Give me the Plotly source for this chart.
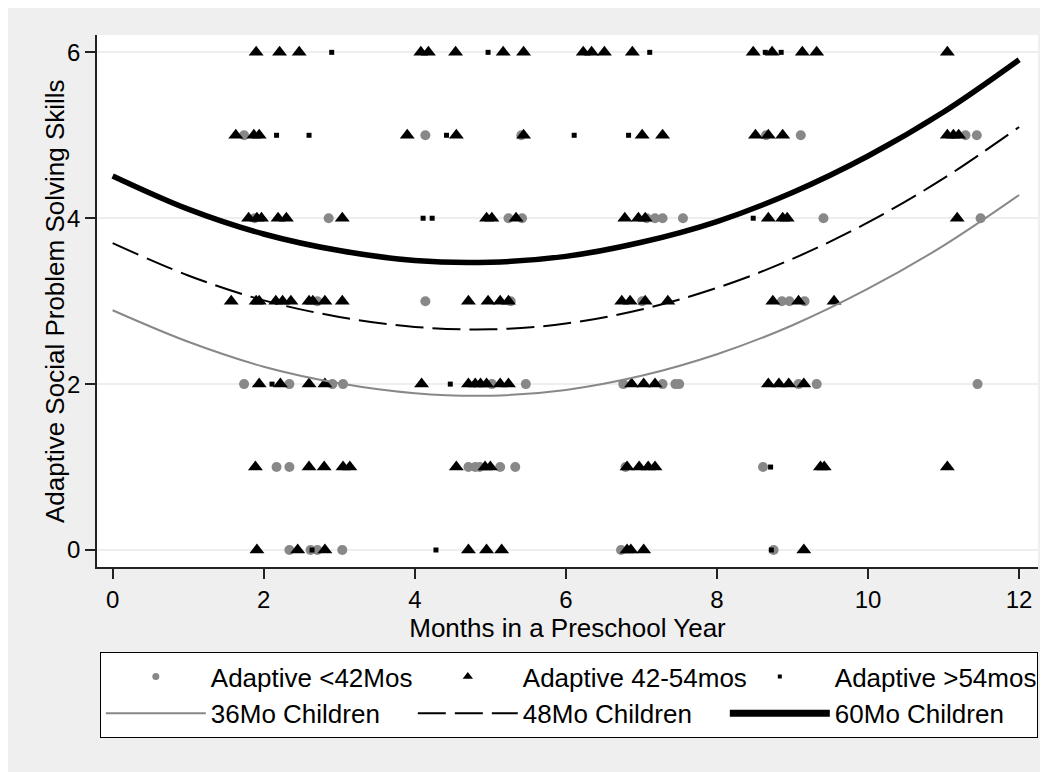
import plotly.graph_objects as go

# ---- data ----
x_ticks = [0, 2, 4, 6, 8, 10, 12]
y_ticks = [0, 2, 4, 6]

# Adaptive <42Mos (gray circles)
lt42_x = [1.74, 4.14, 5.41, 8.65, 9.11, 11.29, 11.44,
          1.88, 2.86, 5.24, 5.42, 7.07, 7.18, 7.28, 7.55, 9.41, 11.49,
          2.71, 4.14, 5.27, 7.01, 8.86, 8.96, 9.16,
          1.74, 2.34, 2.91, 3.05, 5.02, 5.47, 6.76, 7.28, 7.45, 7.50, 9.08, 9.32, 11.45,
          2.17, 2.34, 4.71, 4.80, 4.86, 5.13, 5.33, 6.79, 8.61,
          2.34, 2.62, 2.71, 3.04, 6.73, 8.75]
lt42_y = [5, 5, 5, 5, 5, 5, 5,
          4, 4, 4, 4, 4, 4, 4, 4, 4, 4,
          3, 3, 3, 3, 3, 3, 3,
          2, 2, 2, 2, 2, 2, 2, 2, 2, 2, 2, 2, 2,
          1, 1, 1, 1, 1, 1, 1, 1, 1,
          0, 0, 0, 0, 0, 0]

# Adaptive 42-54mos (black triangles)
mid_x = [1.90, 2.21, 2.47, 4.08, 4.18, 4.54, 5.17, 5.44, 6.23, 6.34, 6.51, 6.88, 8.48, 8.73, 9.13, 9.32, 11.05,
         1.63, 1.87, 1.94, 3.90, 4.55, 5.44, 7.01, 7.28, 8.51, 8.68, 8.87, 11.05, 11.13, 11.20,
         1.80, 1.91, 1.97, 2.19, 2.30, 3.04, 4.95, 5.02, 5.34, 6.78, 6.96, 7.05, 8.68, 8.87, 8.93, 11.18,
         1.57, 1.90, 1.94, 2.16, 2.25, 2.36, 2.60, 2.65, 2.81, 3.04, 4.71, 4.97, 5.13, 5.24, 6.74, 6.85, 7.05, 7.35, 8.74, 9.08, 9.55,
         1.94, 2.22, 2.60, 2.81, 4.09, 4.71, 4.80, 4.87, 4.95, 5.13, 5.24, 6.87, 7.03, 7.18, 8.68, 8.82, 8.95, 9.15,
         1.89, 2.60, 2.80, 3.05, 3.14, 4.55, 4.93, 5.00, 6.81, 6.97, 7.09, 7.18, 9.37, 9.42, 11.05,
         1.91, 2.45, 2.81, 4.71, 4.95, 5.15, 6.81, 6.86, 7.03, 9.15]
mid_y = [6] * 17 + [5] * 14 + [4] * 16 + [3] * 21 + [2] * 18 + [1] * 15 + [0] * 10

# Adaptive >54mos (small black squares)
gt54_x = [2.90, 4.97, 7.11, 8.64, 8.85,
          2.17, 2.60, 4.42, 6.11, 6.83,
          4.11, 4.23, 8.48,
          2.11, 4.47,
          8.71,
          2.64, 4.28, 8.72]
gt54_y = [6, 6, 6, 6, 6,
          5, 5, 5, 5, 5,
          4, 4, 4,
          2, 2,
          1,
          0, 0, 0]

# Fitted curves read at each month
curve_x = [0, 1, 2, 3, 4, 5, 6, 7, 8, 9, 10, 11, 12]
c36 = [2.89, 2.51, 2.21, 2.01, 1.89, 1.86, 1.93, 2.10, 2.36, 2.71, 3.15, 3.67, 4.28]
c48 = [3.70, 3.31, 3.01, 2.81, 2.69, 2.66, 2.73, 2.90, 3.16, 3.51, 3.95, 4.48, 5.10]
c60 = [4.51, 4.11, 3.81, 3.61, 3.49, 3.47, 3.54, 3.71, 3.96, 4.31, 4.75, 5.28, 5.91]

GRAY = "#888888"
BG = "#efefef"
FONT = "Liberation Sans, Arial, sans-serif"

fig = go.Figure()
# data marks (legend drawn by the legend-only entries below, which use smaller symbols)
fig.add_trace(go.Scatter(x=lt42_x, y=lt42_y, mode="markers", showlegend=False,
                         marker=dict(symbol="circle", size=10, color=GRAY)))
fig.add_trace(go.Scatter(x=mid_x, y=mid_y, mode="markers", showlegend=False,
                         marker=dict(symbol="triangle-up", size=13, color="black")))
fig.add_trace(go.Scatter(x=gt54_x, y=gt54_y, mode="markers", showlegend=False,
                         marker=dict(symbol="square", size=5, color="black")))
fig.add_trace(go.Scatter(x=curve_x, y=c36, mode="lines", showlegend=False,
                         line=dict(color=GRAY, width=2, shape="spline")))
fig.add_trace(go.Scatter(x=curve_x, y=c48, mode="lines", showlegend=False,
                         line=dict(color="black", width=2, dash="28px,9px", shape="spline")))
fig.add_trace(go.Scatter(x=curve_x, y=c60, mode="lines", showlegend=False,
                         line=dict(color="black", width=5.5, shape="spline")))

# legend entries
fig.add_trace(go.Scatter(x=[None], y=[None], mode="markers", name="Adaptive <42Mos",
                         marker=dict(symbol="circle", size=7, color=GRAY)))
fig.add_trace(go.Scatter(x=[None], y=[None], mode="markers", name="Adaptive 42-54mos",
                         marker=dict(symbol="triangle-up", size=9, color="black")))
fig.add_trace(go.Scatter(x=[None], y=[None], mode="markers", name="Adaptive >54mos",
                         marker=dict(symbol="square", size=4, color="black")))
fig.add_trace(go.Scatter(x=[None], y=[None], mode="lines", name="36Mo Children",
                         line=dict(color=GRAY, width=2)))
fig.add_trace(go.Scatter(x=[None], y=[None], mode="lines", name="48Mo Children",
                         line=dict(color="black", width=2, dash="28px,9px")))
fig.add_trace(go.Scatter(x=[None], y=[None], mode="lines", name="60Mo Children",
                         line=dict(color="black", width=7)))

fig.update_layout(
    width=1048, height=772,
    margin=dict(l=89, r=18, t=27, b=213),
    paper_bgcolor=BG,
    plot_bgcolor="white",
    font=dict(family=FONT, size=26, color="black"),
    xaxis=dict(range=[-0.207, 12.25], tickvals=x_ticks, ticks="outside", ticklen=10,
               tickwidth=1.5, tickcolor="#222", showline=True, linecolor="#222", linewidth=1.5,
               showgrid=False, zeroline=False, tickfont=dict(size=24),
               title=dict(text="Months in a Preschool Year", font=dict(size=26), standoff=0)),
    yaxis=dict(range=[-0.205, 6.209], tickvals=y_ticks, ticks="outside", ticklen=10,
               tickwidth=1.5, tickcolor="#222", showline=True, linecolor="#222", linewidth=1.5,
               showgrid=True, gridcolor="#eeeeee", gridwidth=2, zeroline=False,
               tickfont=dict(size=24)),
    annotations=[dict(text="Adaptive Social Problem Solving Skills", textangle=-90,
                      xref="paper", yref="paper", x=-0.0446, y=0.5,
                      xanchor="center", yanchor="middle", showarrow=False,
                      font=dict(size=26))],
    legend=dict(orientation="h", x=0.003, xanchor="left", y=-0.16, yanchor="top",
                bgcolor="white", bordercolor="black", borderwidth=1,
                entrywidth=197, itemwidth=100, font=dict(size=26), traceorder="normal"),
    showlegend=True,
)

fig.write_html("out.html")
